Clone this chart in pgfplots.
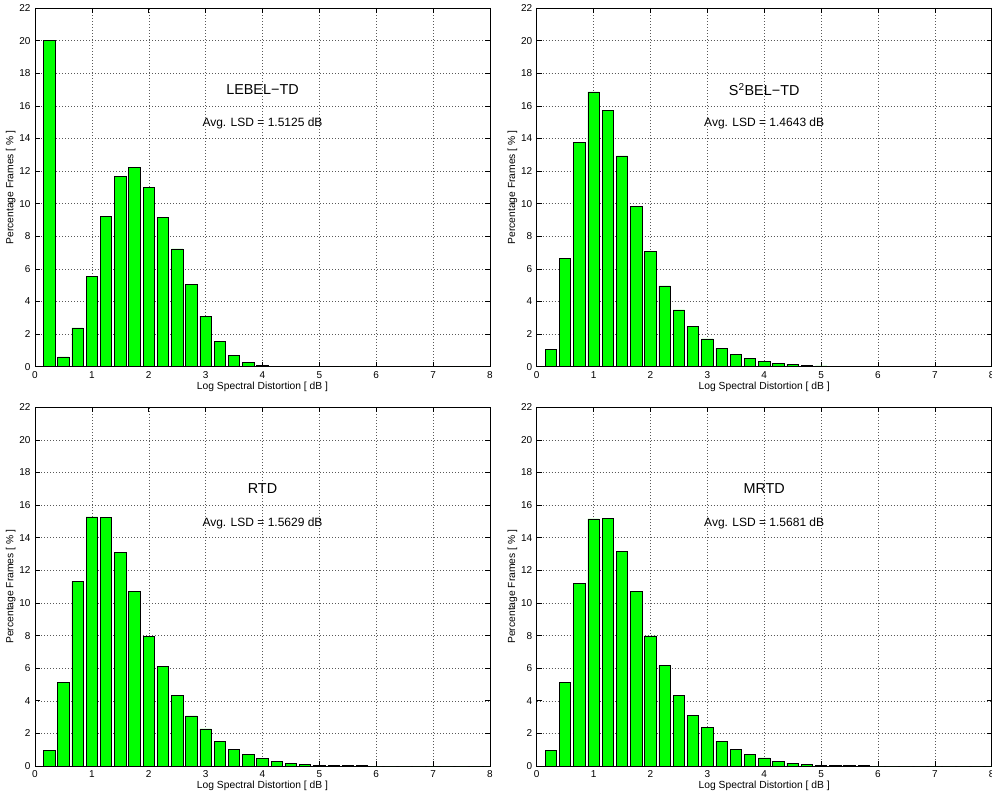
\documentclass[border=0pt]{standalone}
\usepackage{fontspec}
\setmainfont{Liberation Sans}
\usepackage{pgfplots}
\pgfplotsset{compat=1.18}
\usepackage{pgfplotstable}

\pgfplotstableread{
x y
0.25 20.0
0.50 0.60
0.75 2.38
1.00 5.55
1.25 9.22
1.50 11.68
1.75 12.22
2.00 11.02
2.25 9.18
2.50 7.22
2.75 5.07
3.00 3.10
3.25 1.55
3.50 0.68
3.75 0.24
4.00 0.08
4.25 0.03
4.50 0.02
4.75 0.01
5.00 0.0
5.25 0.0
5.50 0.0
5.75 0.0
6.00 0.0
6.25 0.0
6.50 0.0
6.75 0.0
7.00 0.0
7.25 0.0
7.50 0.0
7.75 0.0
8.00 0.0
}\lebel

\pgfplotstableread{
x y
0.25 1.07
0.50 6.62
0.75 13.78
1.00 16.85
1.25 15.72
1.50 12.93
1.75 9.82
2.00 7.05
2.25 4.95
2.50 3.48
2.75 2.45
3.00 1.70
3.25 1.13
3.50 0.73
3.75 0.52
4.00 0.34
4.25 0.22
4.50 0.15
4.75 0.08
5.00 0.05
5.25 0.03
5.50 0.02
5.75 0.01
6.00 0.0
6.25 0.0
6.50 0.0
6.75 0.0
7.00 0.0
7.25 0.0
7.50 0.0
7.75 0.0
8.00 0.0
}\sbel

\pgfplotstableread{
x y
0.25 0.95
0.50 5.15
0.75 11.32
1.00 15.28
1.25 15.22
1.50 13.12
1.75 10.72
2.00 7.97
2.25 6.12
2.50 4.32
2.75 3.07
3.00 2.27
3.25 1.52
3.50 1.03
3.75 0.72
4.00 0.48
4.25 0.30
4.50 0.18
4.75 0.10
5.00 0.05
5.25 0.03
5.50 0.02
5.75 0.01
6.00 0.0
6.25 0.0
6.50 0.0
6.75 0.0
7.00 0.0
7.25 0.0
7.50 0.0
7.75 0.0
8.00 0.0
}\rtd

\pgfplotstableread{
x y
0.25 0.93
0.50 5.12
0.75 11.22
1.00 15.15
1.25 15.18
1.50 13.18
1.75 10.72
2.00 7.98
2.25 6.15
2.50 4.32
2.75 3.10
3.00 2.35
3.25 1.52
3.50 1.03
3.75 0.72
4.00 0.50
4.25 0.30
4.50 0.18
4.75 0.10
5.00 0.05
5.25 0.03
5.50 0.02
5.75 0.01
6.00 0.0
6.25 0.0
6.50 0.0
6.75 0.0
7.00 0.0
7.25 0.0
7.50 0.0
7.75 0.0
8.00 0.0
}\mrtd

\definecolor{bargreen}{rgb}{0,1,0}

\tikzset{
  titlefont/.style={font=\fontsize{14.4}{16}\selectfont},
  lsdfont/.style={font=\fontsize{12}{14}\selectfont},
}

\pgfplotsset{
  histax/.style={
    scale only axis,
    width=455pt, height=358.7pt,
    anchor=south west,
    xmin=0, xmax=8, ymin=0, ymax=22,
    xtick={0,1,...,8},
    ytick={0,2,...,22},
    tick pos=both,
    tick align=inside,
    major tick length=5pt,
    grid=major,
    grid style={dash pattern=on 0.7pt off 2.3pt, line width=0.5pt, black!65},
    axis line style={line width=0.8pt},
    every tick/.style={black, line width=0.6pt},
    /pgf/number format/assume math mode=true,
    tick label style={font=\fontsize{10}{12}\selectfont},
    xticklabel style={yshift=-1pt},
    yticklabel style={xshift=-1pt},
    xlabel={Log Spectral Distortion [ dB ]},
    ylabel={Percentage Frames [ \% ]},
    label style={font=\fontsize{10.3}{12}\selectfont},
    xlabel style={yshift=3pt},
    ylabel style={yshift=-3pt},
  },
  histbar/.style={
    ybar, bar width=0.2, fill=bargreen, draw=black, line width=0.7pt,
  },
}

\begin{document}
\begin{tikzpicture}
\path (0pt,0pt) rectangle (992pt,798pt);

\begin{axis}[histax, at={(35pt,431.3pt)}]
\addplot[histbar] table[x=x,y=y] {\lebel};
\node[titlefont] at (axis cs:4,17) {LEBEL−TD};
\node[lsdfont] at (axis cs:4,14.9) {Avg. LSD = 1.5125 dB};
\end{axis}

\begin{axis}[histax, at={(536.7pt,431.3pt)}]
\addplot[histbar] table[x=x,y=y] {\sbel};
\node[titlefont] at (axis cs:4,17) {S\textsuperscript{2}BEL−TD};
\node[lsdfont] at (axis cs:4,14.9) {Avg. LSD = 1.4643 dB};
\end{axis}

\begin{axis}[histax, at={(35pt,32pt)}]
\addplot[histbar] table[x=x,y=y] {\rtd};
\node[titlefont] at (axis cs:4,17) {RTD};
\node[lsdfont] at (axis cs:4,14.9) {Avg. LSD = 1.5629 dB};
\end{axis}

\begin{axis}[histax, at={(536.7pt,32pt)}]
\addplot[histbar] table[x=x,y=y] {\mrtd};
\node[titlefont] at (axis cs:4,17) {MRTD};
\node[lsdfont] at (axis cs:4,14.9) {Avg. LSD = 1.5681 dB};
\end{axis}

\pgfresetboundingbox
\path[use as bounding box] (0pt,0pt) rectangle (992pt,798pt);
\end{tikzpicture}
\end{document}
